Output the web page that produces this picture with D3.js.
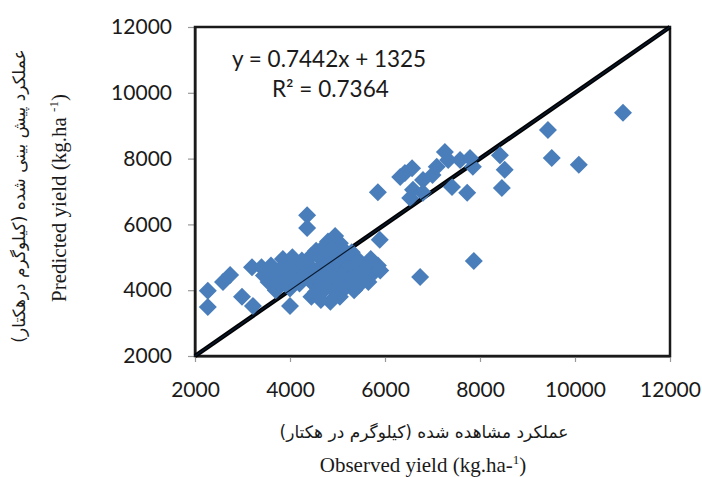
<!DOCTYPE html>
<html><head><meta charset="utf-8">
<script src="https://cdn.jsdelivr.net/npm/d3@7"></script>
<style>body{margin:0;background:#fff}</style>
</head><body>
<svg id="c" width="702" height="477"></svg>
<script>
// Observed (x) and predicted (y) yield, kg/ha
const observed = [
 11010, 9430, 9510, 10080, 8420, 8520, 8460, 7730, 7410, 7790, 7850, 7580, 7330, 7260, 7090, 6800, 6590, 6420, 6570, 6320, 6530, 6800, 7000,
 5850, 4360, 4360, 7870, 6740, 2270, 2270, 2590, 2740, 2990, 3220, 3200, 4000, 5890,
 4800, 5050, 4950,
 4550, 4700, 4900, 5150, 5300,
 3850, 4050, 4250, 4450, 4650, 4850, 5050, 5250, 5450, 5700,
 3400, 3600, 3800, 4000, 4200, 4400, 4600, 4800, 5000, 5200, 5400, 5600, 5850,
 3450, 3650, 3900, 4100, 4300, 4500, 4700, 4900, 5100, 5300, 5500, 5700, 5900,
 3550, 3750, 3950, 4200, 4450, 4650, 4850, 5050, 5250, 5450, 5650,
 3700, 4000, 4550, 4750, 4950, 5150, 5350,
 4450, 4650, 4850, 5050
];
const predicted = [
 9390, 8870, 8020, 7810, 8100, 7660, 7110, 6960, 7140, 8020, 7750, 7960, 7960, 8200, 7750, 7350, 7050, 7560, 7710, 7440, 6800, 6960, 7500,
 6980, 6280, 5890, 4890, 4400, 3980, 3490, 4250, 4460, 3800, 3520, 4700, 3520, 5530,
 5480, 5430, 5650,
 5200, 5300, 5250, 5200, 5150,
 4950, 5000, 4900, 5050, 4950, 5000, 4950, 5000, 4900, 4950,
 4700, 4750, 4650, 4800, 4700, 4750, 4650, 4750, 4700, 4650, 4750, 4700, 4750,
 4450, 4500, 4400, 4550, 4450, 4500, 4400, 4500, 4450, 4400, 4500, 4450, 4600,
 4250, 4200, 4300, 4200, 4250, 4150, 4250, 4200, 4300, 4150, 4250,
 4000, 4050, 3950, 4050, 3950, 4050, 4000,
 3800, 3700, 3650, 3800
];
const xTicks = [2000, 4000, 6000, 8000, 10000, 12000];
const yTicks = [2000, 4000, 6000, 8000, 10000, 12000];
const equationText = "y = 0.7442x + 1325";
const r2Text = "R² = 0.7364";
const xTitleFa = "عملکرد مشاهده شده (کیلوگرم در هکتار)";
const yTitleFa = "عملکرد پیش بینی شده (کیلوگرم درهکتار)";

const svg = d3.select("#c");
const L = 195, R = 670, T = 27, B = 356;
const x = d3.scaleLinear().domain([2000, 12000]).range([L, R]);
const y = d3.scaleLinear().domain([2000, 12000]).range([B, T]);

const tickFont = "Lato, 'Open Sans', sans-serif";

// axes
const gx = svg.append("g").attr("transform", `translate(0,${B})`)
  .call(d3.axisBottom(x).tickValues(xTicks).tickSize(6).tickPadding(20).tickSizeOuter(0).tickFormat(d3.format("d")));
const gy = svg.append("g").attr("transform", `translate(${L},0)`)
  .call(d3.axisLeft(y).tickValues(yTicks).tickSize(7).tickPadding(16).tickSizeOuter(0).tickFormat(d3.format("d")));
[gx, gy].forEach(g => {
  g.select(".domain").attr("stroke", "#666").attr("stroke-width", 2.5);
  g.selectAll(".tick line").attr("stroke", "#999").attr("stroke-width", 1.2);
  g.selectAll(".tick text").attr("font-family", tickFont).attr("font-size", 21).attr("fill", "#1a1a1a");
});

// plot frame
svg.append("rect").attr("x", L).attr("y", T).attr("width", R - L).attr("height", B - T)
  .attr("fill", "none").attr("stroke", "#1a1a1a").attr("stroke-width", 2.5);

// 1:1 line
const oneLine = d3.line().x(d => x(d)).y(d => y(d));
svg.append("path").datum([2000, 12000]).attr("d", oneLine)
  .attr("stroke", "#000").attr("stroke-width", 4.5).attr("fill", "none");

// points
const diamond = "M0,-9L9,0L0,9L-9,0Z";
svg.append("g").selectAll("path").data(observed.map((o, i) => [o, predicted[i]]))
  .join("path")
  .attr("transform", d => `translate(${x(d[0])},${y(d[1])})`)
  .attr("d", diamond)
  .attr("fill", "#4a7ebb");

// thin line over points
svg.append("path").datum([2000, 12000]).attr("d", oneLine)
  .attr("stroke", "#0a1a30").attr("stroke-width", 1.2).attr("fill", "none");

// equation
svg.append("text").attr("x", 232).attr("y", 67).text(equationText)
  .attr("font-family", tickFont).attr("font-size", 22.5).attr("fill", "#1a1a1a");
svg.append("text").attr("x", 272).attr("y", 97).text(r2Text)
  .attr("font-family", tickFont).attr("font-size", 22.5).attr("fill", "#1a1a1a");

// x titles
svg.append("text").attr("x", 424).attr("y", 438).attr("text-anchor", "middle")
  .attr("direction", "rtl").attr("font-family", "'DejaVu Sans', sans-serif").attr("font-size", 17)
  .attr("fill", "#1a1a1a").text(xTitleFa);
const xt = svg.append("text").attr("x", 423).attr("y", 472).attr("text-anchor", "middle")
  .attr("font-family", "'Liberation Serif', 'Times New Roman', serif").attr("font-size", 21).attr("fill", "#1a1a1a");
xt.append("tspan").text("Observed yield (kg.ha-");
xt.append("tspan").attr("font-size", 13).attr("dy", -8).text("1");
xt.append("tspan").attr("dy", 8).text(")");

// y titles
svg.append("text").attr("transform", "translate(25,196) rotate(-90)").attr("text-anchor", "middle")
  .attr("direction", "rtl").attr("font-family", "'DejaVu Sans', sans-serif").attr("font-size", 17)
  .attr("fill", "#1a1a1a").text(yTitleFa);
const yt = svg.append("text").attr("transform", "translate(66,198) rotate(-90)").attr("text-anchor", "middle")
  .attr("font-family", "'Liberation Serif', 'Times New Roman', serif").attr("font-size", 21).attr("fill", "#1a1a1a");
yt.append("tspan").text("Predicted  yield (kg.ha ");
yt.append("tspan").attr("font-size", 13).attr("dy", -8).text("-1");
yt.append("tspan").attr("dy", 8).text(")");
</script>
</body></html>
